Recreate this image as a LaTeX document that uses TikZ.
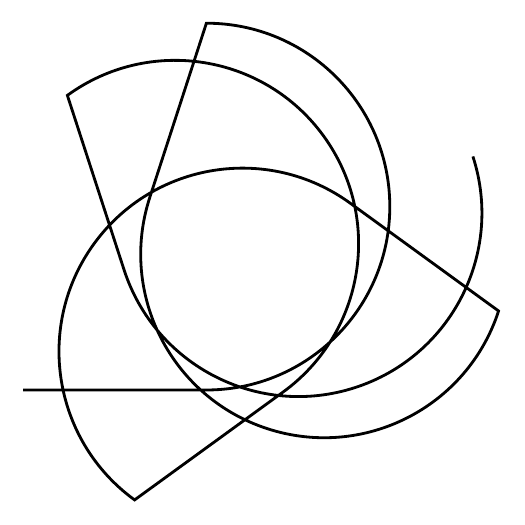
\documentclass[tikz,border=0pt]{standalone}
\begin{document}
\begin{tikzpicture}[stroke/.style={line width=1.6pt, draw=black}]
\useasboundingbox (0,0) rectangle (10.5,10.5);
\coordinate (start) at (0.46,2.70);
\draw[stroke] (start)
  -- ++(0:3.668cm) arc[start angle=-90, end angle=90, radius=3.668cm]
  -- ++(252:3.668cm) arc[start angle=162, end angle=342, radius=3.668cm]
  -- ++(144:3.668cm) arc[start angle=54, end angle=234, radius=3.668cm]
  -- ++(36:3.668cm) arc[start angle=-54, end angle=126, radius=3.668cm]
  -- ++(288:3.668cm) arc[start angle=198, end angle=378, radius=3.668cm];
\end{tikzpicture}
\end{document}
